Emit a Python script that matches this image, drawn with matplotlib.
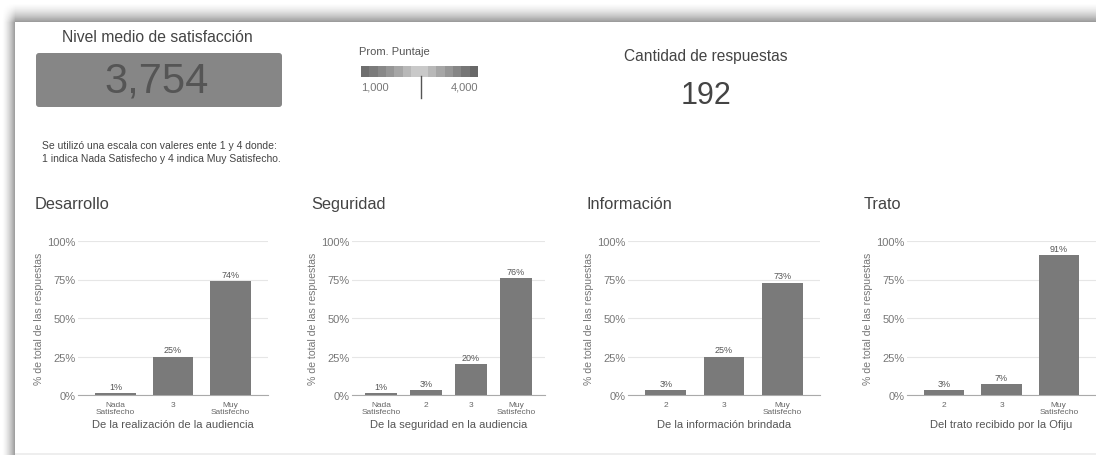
import numpy as np
import matplotlib
matplotlib.use("Agg")
import matplotlib.pyplot as plt
from matplotlib.patches import FancyBboxPatch
from matplotlib.colors import LinearSegmentedColormap

plt.rcParams['font.family'] = ['Liberation Sans', 'DejaVu Sans']

# ---------------- data ----------------
kpi_title = "Nivel medio de satisfacción"
kpi_value = "3,754"
note_lines = ["Se utilizó una escala con valeres ente 1 y 4 donde:",
              "1 indica Nada Satisfecho y 4 indica Muy Satisfecho."]
legend_title = "Prom. Puntaje"
legend_min, legend_max = 1.0, 4.0
legend_labels = ["1,000", "4,000"]
legend_marker = 2.53
count_title = "Cantidad de respuestas"
count_value = "192"

panel_titles = ["Desarrollo", "Seguridad", "Información", "Trato"]
panel_xlabels = ["De la realización de la audiencia", "De la seguridad en la audiencia",
                 "De la información brindada", "Del trato recibido por la Ofiju"]
desarrollo_cats = ["Nada\nSatisfecho", "3", "Muy\nSatisfecho"]
desarrollo_vals = [1, 25, 74]
seguridad_cats = ["Nada\nSatisfecho", "2", "3", "Muy\nSatisfecho"]
seguridad_vals = [1, 3, 20, 76]
informacion_cats = ["2", "3", "Muy\nSatisfecho"]
informacion_vals = [3, 25, 73]
trato_cats = ["2", "3", "Muy\nSatisfecho"]
trato_vals = [3, 7, 91]
y_ticks = [0, 25, 50, 75, 100]
y_label = "% de total de las respuestas"

# ---------------- figure ----------------
W, H = 1096, 456
fig = plt.figure(figsize=(W / 100, H / 100), dpi=100)
fig.patch.set_facecolor("white")

def px(l, t, r, b):
    return [l / W, 1 - b / H, (r - l) / W, (b - t) / H]

# background shadow frame
bg = fig.add_axes([0, 0, 1, 1])
bg.set_xlim(0, W); bg.set_ylim(H, 0); bg.axis("off")
yy, xx = np.mgrid[0:H, 0:W]
card_l, card_t, card_b = 15, 23, 453
shade = np.ones((H, W))
top = (yy < card_t)
shade[top] = 1 - 0.42 * np.clip((yy[top] - 3) / (card_t - 3), 0, 1) ** 1.6
left = (xx < card_l) & (yy >= card_t)
shade[left] = 1 - 0.42 * np.clip((xx[left] - 1) / (card_l - 1), 0, 1) ** 1.6
corner = (xx < card_l) & (yy < card_t)
a = np.clip((xx - 1) / (card_l - 1), 0, 1) ** 1.6 * np.clip((yy - 3) / (card_t - 3), 0, 1) ** 1.6
shade[corner] = (1 - 0.42 * a)[corner]
bot = (yy > card_b) & (xx >= card_l)
shade[bot] = 0.93
bg.imshow(shade, cmap="gray", vmin=0, vmax=1, extent=(0, W, H, 0), aspect="auto",
          interpolation="bilinear")

# KPI box
bg.text(157, 38, kpi_title, ha="center", va="center", fontsize=11.3, color="#444444")
bg.add_patch(FancyBboxPatch((36, 54), 246, 54, boxstyle="round,pad=0,rounding_size=3",
                            facecolor="#868686", edgecolor="none"))
bg.text(157, 82, kpi_value, ha="center", va="center", fontsize=30, color="#555555")
bg.text(42, 146, note_lines[0], ha="left", va="center", fontsize=7.5, color="#444444")
bg.text(42, 159, note_lines[1], ha="left", va="center", fontsize=7.5, color="#444444")

# legend color bar
bg.text(359, 52, legend_title, ha="left", va="center", fontsize=8, color="#555555")
cmap = LinearSegmentedColormap.from_list(
    "g", ["#6e6e6e", "#9a9a9a", "#d2d2d2", "#9a9a9a", "#686868"])
n_steps = 14
grad = np.linspace(legend_min, legend_max, n_steps).reshape(1, -1)
bg.imshow(grad, cmap=cmap, extent=(361, 478, 78, 67), aspect="auto",
          interpolation="nearest")
bg.text(361, 88, legend_labels[0], ha="left", va="center", fontsize=8, color="#777777")
bg.text(478, 88, legend_labels[1], ha="right", va="center", fontsize=8, color="#777777")
mx = 361 + (legend_marker - legend_min) / (legend_max - legend_min) * (478 - 361)
bg.plot([mx, mx], [77, 99], color="#555555", lw=1)

bg.text(706, 57, count_title, ha="center", va="center", fontsize=11.2, color="#444444")
bg.text(706, 96, count_value, ha="center", va="center", fontsize=22, color="#444444")

# ---------------- bar panels ----------------
panels = [
    (desarrollo_cats, desarrollo_vals, 78, 268, 35),
    (seguridad_cats, seguridad_vals, 352, 545, 311),
    (informacion_cats, informacion_vals, 628, 820, 587),
    (trato_cats, trato_vals, 907, 1096, 864),
]
for i, (cats, vals, l, r, tx) in enumerate(panels):
    bg.text(tx, 205, panel_titles[i], ha="left", va="center", fontsize=11.8, color="#444444")
    ax = fig.add_axes(px(l, 242, r, 396))
    ax.set_facecolor("none")
    x = np.arange(len(cats))
    ax.bar(x, vals, width=0.7, color="#7a7a7a", zorder=3)
    for xi, v in zip(x, vals):
        ax.text(xi, v + 1.5, f"{v}%", ha="center", va="bottom", fontsize=6.5, color="#555555")
    ax.set_xlim(-0.65, len(cats) - 0.35)
    ax.set_ylim(0, 100)
    ax.set_yticks(y_ticks)
    ax.set_yticklabels([f"{t}%" for t in y_ticks])
    ax.set_xticks(x)
    ax.set_xticklabels(cats, fontsize=6, color="#666666", linespacing=1.0)
    ax.tick_params(axis="y", labelsize=8, colors="#777777", length=0, pad=2)
    ax.tick_params(axis="x", length=0, pad=4)
    for s in ["top", "right", "left"]:
        ax.spines[s].set_visible(False)
    ax.spines["bottom"].set_color("#aaaaaa")
    ax.spines["bottom"].set_linewidth(0.8)
    ax.grid(axis="y", color="#e6e6e6", lw=0.8, zorder=0)
    ax.set_xlabel(panel_xlabels[i], fontsize=8, color="#555555", labelpad=3)
    ax.set_ylabel(y_label, fontsize=7.6, color="#777777", labelpad=2)

fig.savefig("out.png", dpi=100)
